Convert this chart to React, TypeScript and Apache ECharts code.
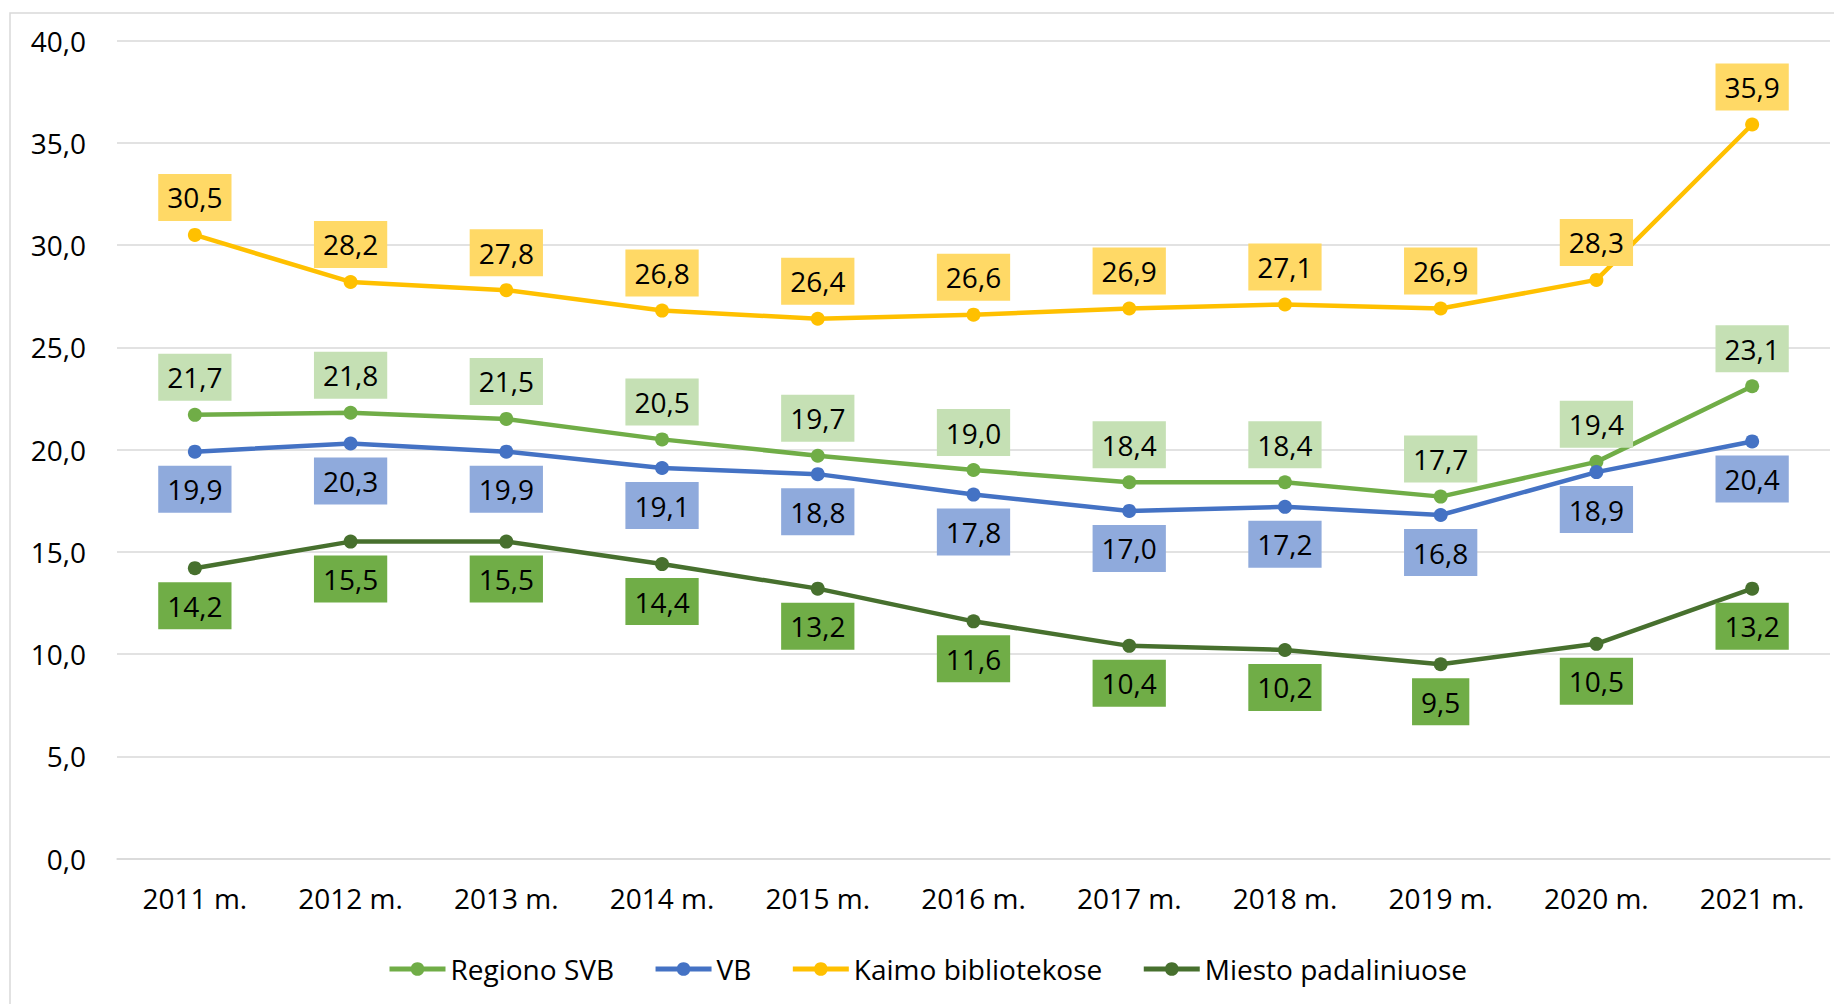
import React, { useEffect, useRef } from "react";
import * as echarts from "echarts";

const categories = ["2011 m.", "2012 m.", "2013 m.", "2014 m.", "2015 m.", "2016 m.", "2017 m.", "2018 m.", "2019 m.", "2020 m.", "2021 m."];
const regionoSVB = [21.7, 21.8, 21.5, 20.5, 19.7, 19.0, 18.4, 18.4, 17.7, 19.4, 23.1];
const vb = [19.9, 20.3, 19.9, 19.1, 18.8, 17.8, 17.0, 17.2, 16.8, 18.9, 20.4];
const kaimo = [30.5, 28.2, 27.8, 26.8, 26.4, 26.6, 26.9, 27.1, 26.9, 28.3, 35.9];
const miesto = [14.2, 15.5, 15.5, 14.4, 13.2, 11.6, 10.4, 10.2, 9.5, 10.5, 13.2];
const seriesNames = ["Regiono SVB", "VB", "Kaimo bibliotekose", "Miesto padaliniuose"];

const FONT = "'Open Sans', 'Noto Sans', sans-serif";
const FS = 28;
const fmt = (v: number) => v.toFixed(1).replace(".", ",");

function mk(name: string, data: number[], line: string, bg: string, pos: "top" | "bottom") {
  return {
    name,
    type: "line",
    data,
    symbol: "circle",
    symbolSize: 14,
    lineStyle: { color: line, width: 4.5 },
    itemStyle: { color: line },
    label: {
      show: true,
      position: pos,
      distance: 7,
      formatter: (p: any) => fmt(p.value),
      backgroundColor: bg,
      padding: [8, 9, 8, 9],
      fontSize: FS,
      lineHeight: 31,
      color: "#000",
      fontFamily: FONT,
    },
  };
}

export default function App() {
  const ref = useRef<HTMLDivElement>(null);
  useEffect(() => {
    if (!ref.current) return;
    const chart = echarts.init(ref.current, undefined, { renderer: "svg" });
    chart.setOption({
      animation: false,
      backgroundColor: "#fff",
      textStyle: { fontFamily: FONT },
      graphic: [
        {
          type: "rect",
          shape: { x: 10, y: 13, width: 1900, height: 1100 },
          style: { fill: "none", stroke: "#D9D9D9", lineWidth: 1.5 },
          silent: true,
          z: -10,
        },
      ],
      grid: { left: 117, right: 4, top: 40.7, bottom: 145.5, containLabel: false },
      legend: {
        data: seriesNames,
        left: 382,
        top: 950,
        itemWidth: 56,
        itemHeight: 17,
        itemGap: 39,
        lineStyle: { width: 5 },
        textStyle: { fontSize: FS, color: "#000", fontFamily: FONT },
      },
      xAxis: {
        type: "category",
        data: categories,
        boundaryGap: true,
        axisLine: { show: true, lineStyle: { color: "#D9D9D9", width: 1.5 } },
        axisTick: { show: false },
        axisLabel: { fontSize: FS, color: "#000", margin: 25, fontFamily: FONT },
      },
      yAxis: {
        type: "value",
        min: 0,
        max: 40,
        interval: 5,
        axisLine: { show: false },
        axisTick: { show: false },
        splitLine: { lineStyle: { color: "#D9D9D9", width: 1.5 } },
        axisLabel: { fontSize: FS, color: "#000", margin: 31, formatter: (v: number) => fmt(v), fontFamily: FONT },
      },
      series: [
        mk(seriesNames[0], regionoSVB, "#70AD47", "#C5E0B4", "top"),
        mk(seriesNames[1], vb, "#4472C4", "#8FAADC", "bottom"),
        mk(seriesNames[2], kaimo, "#FFC000", "#FFD966", "top"),
        mk(seriesNames[3], miesto, "#47702E", "#70AD47", "bottom"),
      ],
    });
    return () => chart.dispose();
  }, []);
  return <div ref={ref} style={{ position: "fixed", left: 0, top: 0, width: 1834, height: 1004 }} />;
}
